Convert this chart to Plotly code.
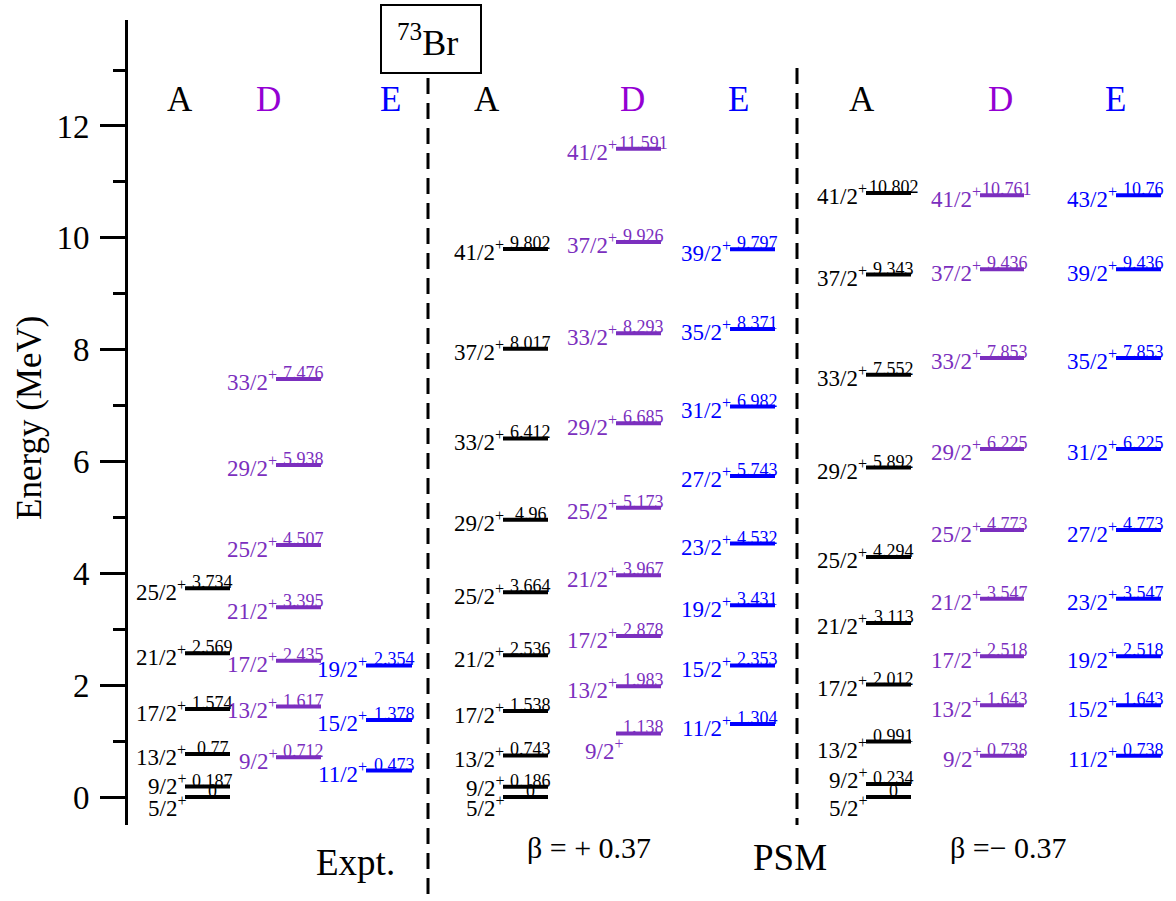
import plotly.graph_objects as go

# ---------------------------------------------------------------------------
# Level energies (MeV) and spins for 73Br
# ---------------------------------------------------------------------------
# Experiment
expt_A_spins = ["5/2", "9/2", "13/2", "17/2", "21/2", "25/2"]
expt_A_energy = [0, 0.187, 0.77, 1.574, 2.569, 3.734]
expt_D_spins = ["9/2", "13/2", "17/2", "21/2", "25/2", "29/2", "33/2"]
expt_D_energy = [0.712, 1.617, 2.435, 3.395, 4.507, 5.938, 7.476]
expt_E_spins = ["11/2", "15/2", "19/2"]
expt_E_energy = [0.473, 1.378, 2.354]

# PSM, beta = +0.37
pos_A_spins = ["5/2", "9/2", "13/2", "17/2", "21/2", "25/2", "29/2", "33/2", "37/2", "41/2"]
pos_A_energy = [0, 0.186, 0.743, 1.538, 2.536, 3.664, 4.96, 6.412, 8.017, 9.802]
pos_D_spins = ["9/2", "13/2", "17/2", "21/2", "25/2", "29/2", "33/2", "37/2", "41/2"]
pos_D_energy = [1.138, 1.983, 2.878, 3.967, 5.173, 6.685, 8.293, 9.926, 11.591]
pos_E_spins = ["11/2", "15/2", "19/2", "23/2", "27/2", "31/2", "35/2", "39/2"]
pos_E_energy = [1.304, 2.353, 3.431, 4.532, 5.743, 6.982, 8.371, 9.797]

# PSM, beta = -0.37
neg_A_spins = ["5/2", "9/2", "13/2", "17/2", "21/2", "25/2", "29/2", "33/2", "37/2", "41/2"]
neg_A_energy = [0, 0.234, 0.991, 2.012, 3.113, 4.294, 5.892, 7.552, 9.343, 10.802]
neg_D_spins = ["9/2", "13/2", "17/2", "21/2", "25/2", "29/2", "33/2", "37/2", "41/2"]
neg_D_energy = [0.738, 1.643, 2.518, 3.547, 4.773, 6.225, 7.853, 9.436, 10.761]
neg_E_spins = ["11/2", "15/2", "19/2", "23/2", "27/2", "31/2", "35/2", "39/2", "43/2"]
neg_E_energy = [0.738, 1.643, 2.518, 3.547, 4.773, 6.225, 7.853, 9.436, 10.76]

band_names = ["A", "D", "E"]
panel_labels = ["Expt.", "β = + 0.37", "PSM", "β =− 0.37"]

# ---------------------------------------------------------------------------
# Geometry and style
# ---------------------------------------------------------------------------
W, H = 1176, 901
ML, MT, MB = 128, 20, 76
PW, PH = W - ML, H - MT - MB
Y_MIN, Y_MAX = -0.5, 13.895
FONT = "'Liberation Serif', 'Times New Roman', Times, serif"

BLACK = "#000000"
PURPLE = "#7b2fbe"
PURPLE_HEAD = "#9400d3"
BLUE = "#0000ff"


def px(x):
    return (x - ML) / PW


def py(y):
    return (H - MB - y) / PH


columns = [
    dict(spins=expt_A_spins, energy=expt_A_energy, color=BLACK, x0=185, x1=230),
    dict(spins=expt_D_spins, energy=expt_D_energy, color=PURPLE, x0=276, x1=321),
    dict(spins=expt_E_spins, energy=expt_E_energy, color=BLUE, x0=366, x1=412),
    dict(spins=pos_A_spins, energy=pos_A_energy, color=BLACK, x0=503, x1=548),
    dict(spins=pos_D_spins, energy=pos_D_energy, color=PURPLE, x0=616, x1=661),
    dict(spins=pos_E_spins, energy=pos_E_energy, color=BLUE, x0=730, x1=775),
    dict(spins=neg_A_spins, energy=neg_A_energy, color=BLACK, x0=866, x1=911),
    dict(spins=neg_D_spins, energy=neg_D_energy, color=PURPLE, x0=980, x1=1024),
    dict(spins=neg_E_spins, energy=neg_E_energy, color=BLUE, x0=1116, x1=1161),
]

# extra nudges (px) for crowded spin labels: (column, index) -> (dx, dy down)
label_nudge = {
    (0, 0): (0, 7), (0, 1): (0, -4),
    (3, 0): (0, 7), (3, 1): (0, -2),
    (4, 0): (6, 14),
    (6, 0): (0, 7), (6, 1): (0, -7), (6, 2): (0, 5),
}

fig = go.Figure()
annotations = []

for ci, col in enumerate(columns):
    xs, ys = [], []
    for e in col["energy"]:
        xs += [col["x0"], col["x1"], None]
        ys += [e, e, None]
    fig.add_trace(go.Scatter(
        x=xs, y=ys, mode="lines",
        line=dict(color=col["color"], width=4),
        hoverinfo="skip", showlegend=False,
    ))
    xc = 0.5 * (col["x0"] + col["x1"])
    for li, (s, e) in enumerate(zip(col["spins"], col["energy"])):
        dx, dy = label_nudge.get((ci, li), (0, 0))
        # energy value sitting on the level
        annotations.append(dict(
            x=xc, y=e, xref="x", yref="y", text=f"{e:g}",
            showarrow=False, xanchor="center", yanchor="bottom",
            xshift=5, yshift=-6,
            font=dict(family=FONT, size=18, color=col["color"]),
        ))
        # spin-parity label to the left of the level
        annotations.append(dict(
            x=col["x0"], y=e, xref="x", yref="y",
            text=f"{s}<sup>+</sup>",
            showarrow=False, xanchor="right", yanchor="middle",
            xshift=3 + dx, yshift=-2 - dy,
            font=dict(family=FONT, size=23, color=col["color"]),
        ))

# band headers
header_x = [180, 268, 390, 487, 632, 738, 862, 1000, 1115]
header_col = [BLACK, PURPLE_HEAD, BLUE] * 3
for i, (hx, hc) in enumerate(zip(header_x, header_col)):
    annotations.append(dict(
        x=px(hx), y=py(100), xref="paper", yref="paper",
        text=band_names[i % 3], showarrow=False,
        xanchor="center", yanchor="middle",
        font=dict(family=FONT, size=35, color=hc),
    ))

# panel captions
caption_pos = [(355, 862, 37), (589, 847, 30), (790, 858, 37), (1008, 847, 30)]
for txt, (cx, cy, fs) in zip(panel_labels, caption_pos):
    annotations.append(dict(
        x=px(cx), y=py(cy), xref="paper", yref="paper",
        text=txt, showarrow=False, xanchor="center", yanchor="middle",
        font=dict(family=FONT, size=fs, color=BLACK),
    ))

# nucleus label in a box
annotations.append(dict(
    x=px(427), y=py(40), xref="paper", yref="paper",
    text="<sup>73</sup>Br", showarrow=False, xanchor="center", yanchor="middle",
    font=dict(family=FONT, size=36, color=BLACK),
))

# y-axis title
annotations.append(dict(
    x=px(29), y=py(418), xref="paper", yref="paper",
    text="Energy (MeV)", showarrow=False, textangle=-90,
    xanchor="center", yanchor="middle",
    font=dict(family=FONT, size=35, color=BLACK),
))

shapes = [
    dict(type="line", xref="paper", yref="paper",
         x0=px(428), x1=px(428), y0=py(78), y1=py(901),
         line=dict(color=BLACK, width=3, dash="16px,9px")),
    dict(type="line", xref="paper", yref="paper",
         x0=px(797), x1=px(797), y0=py(68), y1=py(825),
         line=dict(color=BLACK, width=3, dash="16px,9px")),
    dict(type="rect", xref="paper", yref="paper",
         x0=px(381), x1=px(481), y0=py(5), y1=py(73),
         line=dict(color=BLACK, width=2), fillcolor="white"),
]

fig.update_layout(
    width=W, height=H,
    margin=dict(l=ML, r=0, t=MT, b=MB),
    plot_bgcolor="white", paper_bgcolor="white",
    font=dict(family=FONT, color=BLACK),
    annotations=annotations, shapes=shapes,
    xaxis=dict(visible=False, range=[ML, W], fixedrange=True),
    yaxis=dict(
        range=[Y_MIN, Y_MAX], showgrid=False, zeroline=False,
        showline=True, linewidth=3, linecolor=BLACK,
        ticks="outside", ticklen=25, tickwidth=3, tickcolor=BLACK,
        tick0=0, dtick=2, ticklabelstandoff=4,
        tickfont=dict(family=FONT, size=33, color=BLACK),
        minor=dict(dtick=1, tick0=0, ticks="outside", ticklen=12,
                   tickwidth=3, tickcolor=BLACK, showgrid=False),
    ),
)

fig.write_html("out.html")
